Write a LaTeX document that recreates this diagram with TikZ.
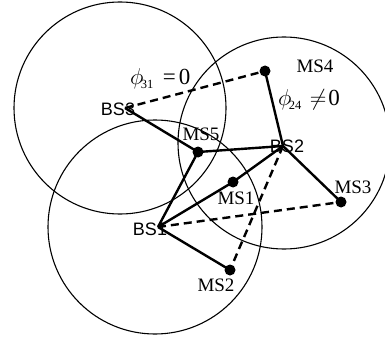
\RequirePackage{fix-cm}
\documentclass[tikz,border=0pt]{standalone}
\usepackage{fontspec}
\newfontfamily\bsfont{Liberation Sans}
\newfontfamily\msfont{Liberation Serif}
\newcommand\subsz[1]{\mbox{\msfont\fontsize{12.5}{12.5}\selectfont #1}}
\begin{document}
\begin{tikzpicture}[x=1pt,y=-1pt,
  cell/.style={line width=1.1pt},
  link/.style={line width=2.4pt},
  dlink/.style={line width=2.4pt, dash pattern=on 8pt off 5pt},
  msdot/.style={circle, fill=black, inner sep=0pt, minimum size=11pt},
  bslab/.style={font=\bsfont\fontsize{18}{18}\selectfont, inner sep=0pt},
  mslab/.style={font=\msfont\fontsize{19}{19}\selectfont, inner sep=0pt},
  philab/.style={font=\msfont\fontsize{23}{24}\selectfont, inner sep=0pt, anchor=base west}]
\useasboundingbox (0,0) rectangle (385,342);
% base stations and cells
\coordinate (bs3) at (125,108);
\coordinate (bs2) at (283,146);
\coordinate (bs1) at (158,227);
\draw[cell] (120,108) circle (106);
\draw[cell] (284,143) circle (106);
\draw[cell] (155,227) circle (107);
% mobile stations
\node[msdot] (ms5) at (198,152) {};
\node[msdot] (ms4) at (265,71) {};
\node[msdot] (ms1) at (233,182) {};
\node[msdot] (ms3) at (341,202) {};
\node[msdot] (ms2) at (230,270) {};
% solid links
\draw[link] (bs3) -- (ms5.center);
\draw[link] (ms5.center) -- (bs2);
\draw[link] (bs2) -- (ms4.center);
\draw[link] (bs2) -- (ms3.center);
\draw[link] (bs2) -- (ms1.center);
\draw[link] (bs1) -- (ms1.center);
\draw[link] (bs1) -- (ms5.center);
\draw[link] (bs1) -- (ms2.center);
% dashed interference links
\draw[dlink] (bs3) -- (ms4.center);
\draw[dlink] (bs1) -- (ms3.center);
\draw[dlink] (bs2) -- (ms2.center);
% labels
\node[bslab] (lbs3) at (118,109) {BS3};
\node[bslab] (lbs2) at (287,146) {BS2};
\node[bslab] (lbs1) at (150,229) {BS1};
\node[mslab] (lms4) at (315,66) {MS4};
\node[mslab] (lms5) at (201,134) {MS5};
\node[mslab] (lms1) at (236,198) {MS1};
\node[mslab] (lms3) at (353,187) {MS3};
\node[mslab] (lms2) at (216,285) {MS2};
\node[philab] (phi31) at (130,85) {$\phi_{\!\subsz{31}}$\hspace{9pt}=\hspace{3pt}0};
\node[philab] (phi24) at (278,106) {$\phi_{\!\subsz{24}}$\hspace{8pt}$\neq$\hspace{2pt}0};
\end{tikzpicture}
\end{document}
